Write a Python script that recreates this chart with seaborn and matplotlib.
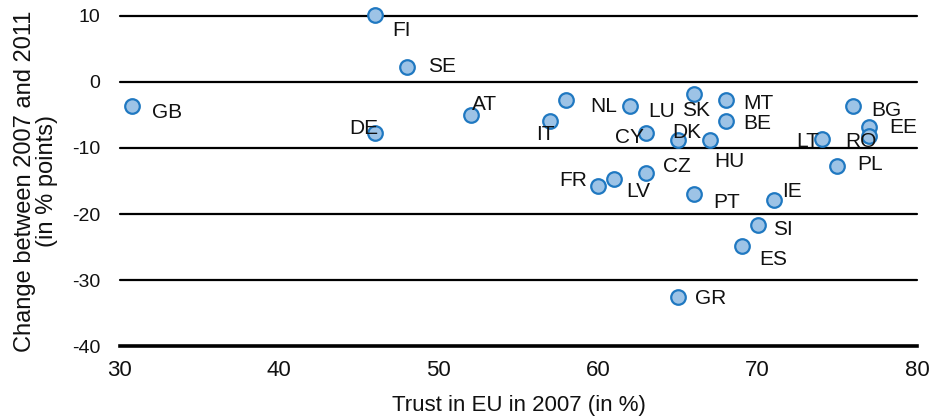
import numpy as np
import pandas as pd
import matplotlib
matplotlib.use("Agg")
import matplotlib.pyplot as plt
import seaborn as sns

countries = ["FI", "SE", "GB", "DE", "AT", "NL", "IT", "LU", "SK", "MT", "BE", "CY",
             "DK", "HU", "LT", "BG", "EE", "RO", "PL", "CZ", "FR", "LV", "PT", "IE",
             "SI", "ES", "GR"]
trust_2007 = [46, 48, 30.8, 46, 52, 58, 57, 62, 66, 68, 68, 63,
              65, 67, 74, 76, 77, 77, 75, 63, 60, 61, 66, 71,
              70, 69, 65]
change = [10.15, 2.3, -3.7, -7.8, -5.0, -2.8, -5.9, -3.7, -1.8, -2.7, -5.9, -7.8,
          -8.8, -8.8, -8.7, -3.6, -6.8, -8.2, -12.8, -13.8, -15.8, -14.7, -17.0, -17.9,
          -21.7, -24.8, -32.6]

# label offsets in pixels (dx, dy) and alignment
label_pos = {
    "FI": (17, -16, "left"), "SE": (21, 0, "left"), "GB": (20, -6, "left"),
    "DE": (3, 5, "right"), "AT": (1, 10, "left"), "NL": (24, -6, "left"),
    "IT": (4, -14, "right"), "LU": (18, -5, "left"), "SK": (2, -17, "center"),
    "MT": (17, -4, "left"), "BE": (17, -3, "left"), "CY": (-2, -4, "right"),
    "DK": (9, 8, "center"), "HU": (4, -21, "left"), "LT": (-2, -2, "right"),
    "BG": (18, -5, "left"), "EE": (20, -1, "left"), "RO": (7, -5, "right"),
    "PL": (20, 2, "left"), "CZ": (17, 7, "left"), "FR": (-11, 6, "right"),
    "LV": (12, -12, "left"), "PT": (19, -8, "left"), "IE": (8, 9, "left"),
    "SI": (15, -4, "left"), "ES": (17, -14, "left"), "GR": (17, -1, "left"),
}

df = pd.DataFrame({"country": countries, "trust": trust_2007, "change": change})

sns.set_style("white")
plt.rcParams["font.family"] = ["Liberation Sans", "DejaVu Sans"]
plt.rcParams["axes.unicode_minus"] = False

fig = plt.figure(figsize=(9.35, 4.18), dpi=100)
ax = fig.add_axes([0.128, 0.172, 0.853, 0.79])

for yv in [10, 0, -10, -20, -30]:
    ax.axhline(yv, color="black", lw=1.6, zorder=1, clip_on=False)

sns.scatterplot(data=df, x="trust", y="change", ax=ax, s=110,
                color="#9dc3e6", edgecolor="#1f78c1", linewidth=1.6,
                zorder=3, clip_on=False)

for c, xv, yv in zip(countries, trust_2007, change):
    dx, dy, ha = label_pos[c]
    ax.annotate(c, (xv, yv), xytext=(dx, dy), textcoords="offset pixels",
                ha=ha, va="center", fontsize=15, color="#111111", zorder=4,
                annotation_clip=False)

ax.set_xlim(30, 80)
ax.set_ylim(-40, 10)
ax.set_xticks([30, 40, 50, 60, 70, 80])
ax.set_yticks([10, 0, -10, -20, -30, -40])

for s in ["top", "right", "left"]:
    ax.spines[s].set_visible(False)
ax.spines["bottom"].set_linewidth(2.6)
ax.spines["bottom"].set_color("black")
ax.tick_params(axis="x", direction="out", length=5, width=1.5, color="black",
               labelsize=16, pad=5, labelcolor="#111111")
ax.tick_params(axis="y", length=0, labelsize=14, pad=14, labelcolor="#111111")
ax.set_xlabel("Trust in EU in 2007 (in %)", fontsize=16, labelpad=10,
              color="#111111")
ax.set_ylabel("Change between 2007 and 2011\n(in % points)", fontsize=17,
              labelpad=10, linespacing=1.0, color="#111111")

fig.savefig("out.png", dpi=100)
